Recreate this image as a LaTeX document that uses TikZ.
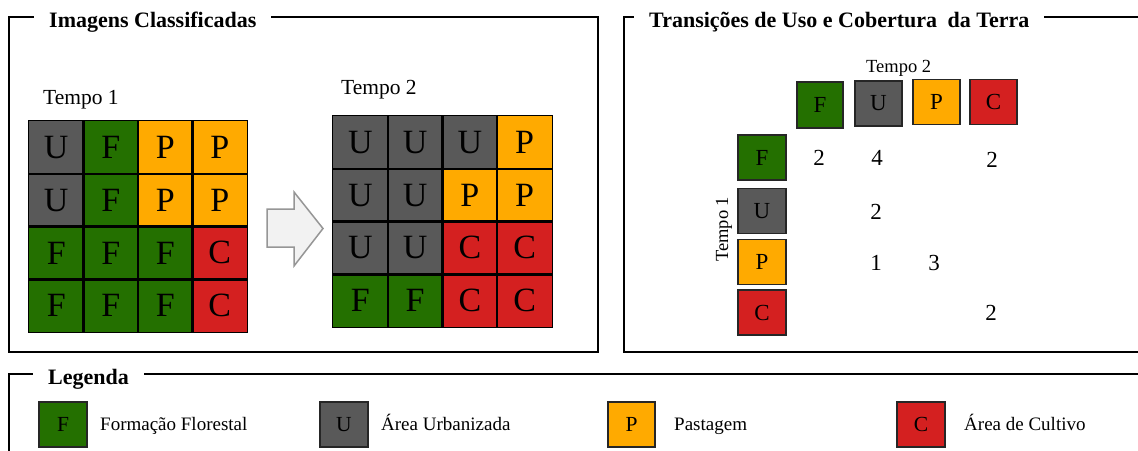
\documentclass[tikz,border=0pt]{standalone}
\usepackage{fontspec}
\setmainfont{Liberation Serif}
\definecolor{cF}{RGB}{36,112,0}
\definecolor{cU}{RGB}{89,89,89}
\definecolor{cP}{RGB}{255,170,0}
\definecolor{cC}{RGB}{212,32,32}
\definecolor{arrowfill}{RGB}{242,242,242}
\definecolor{arrowline}{RGB}{150,150,150}
\begin{document}
\begin{tikzpicture}[x=1pt,y=-1pt,
  frame/.style={draw=black,line width=2pt},
  paneltitle/.style={fill=white,inner xsep=15pt,inner ysep=4pt,anchor=base west,font=\fontsize{22}{26}\selectfont\bfseries},
  cell/.style={line width=1.2pt,minimum width=54.5pt,minimum height=52.75pt,inner sep=0pt,font=\fontsize{34}{40}\selectfont},
  cellborder/.style={draw=black,line width=1.3pt},
  tile/.style={draw=black!85,line width=1.5pt,minimum width=47pt,minimum height=45pt,inner sep=0pt,font=\fontsize{23}{27}\selectfont},
  key/.style={draw=black!85,line width=1.5pt,minimum width=47pt,minimum height=45pt,inner sep=0pt,font=\fontsize{21.5}{25}\selectfont},
  lbl/.style={anchor=base west,inner sep=0pt,font=\fontsize{21.5}{26}\selectfont},
  smalllbl/.style={anchor=base west,inner sep=0pt,font=\fontsize{18.5}{22}\selectfont},
  num/.style={inner sep=0pt,font=\fontsize{23}{27}\selectfont},
  keytext/.style={anchor=base west,inner sep=0pt,font=\fontsize{19}{23}\selectfont},
  bigarrow/.style={draw=arrowline,fill=arrowfill,line width=1.5pt,line join=miter}
]
\useasboundingbox (0,0) rectangle (1138,450);
\clip (0,0) rectangle (1138,450);
\fill[white] (0,0) rectangle (1138,450);

% ---------- frames ----------
\draw[frame] (9,17) rectangle (598,352);
\node[paneltitle] (title1) at (34,27.5) {Imagens Classificadas};
\draw[frame] (624,17) rectangle (1160,352);
\node[paneltitle] (title2) at (634,27.5) {Transições de Uso e Cobertura\hspace{5pt} da Terra};
\draw[frame] (8.5,374) rectangle (1160,470);
\node[paneltitle] (title3) at (33,384.5) {Legenda};

% ---------- Imagens classificadas ----------
\node[lbl] (tempo1) at (43,104) {Tempo 1};
\node[lbl] (tempo2) at (341,94.5) {Tempo 2};

\foreach \r/\pa/\pb/\pc/\pd in {0/U/F/P/P,1/U/F/P/P,2/F/F/F/C,3/F/F/F/C}{
  \foreach \i/\q in {0/\pa,1/\pb,2/\pc,3/\pd}{
    \node[cell,fill=c\q] (a\r\i) at ({29+54.5*(\i+0.5)},{121+52.75*(\r+0.5)}) {\q};
  }
}
\foreach \r/\pa/\pb/\pc/\pd in {0/U/U/U/P,1/U/U/P/P,2/U/U/C/C,3/F/F/C/C}{
  \foreach \i/\q in {0/\pa,1/\pb,2/\pc,3/\pd}{
    \node[cell,fill=c\q] (b\r\i) at ({333+54.75*(\i+0.5)},{116+52.75*(\r+0.5)}) {\q};
  }
}
% borders drawn after all fills so no edge is covered
\foreach \r in {0,1,2,3}{
  \foreach \i in {0,1,2,3}{
    \draw[cellborder] (a\r\i.north west) rectangle (a\r\i.south east);
    \draw[cellborder] (b\r\i.north west) rectangle (b\r\i.south east);
  }
}
\draw[bigarrow] (267,209) -- (294,209) -- (294,192) -- (323,228.5) -- (294,266) -- (294,247) -- (267,247) -- cycle;

% ---------- Transicoes ----------
\node[smalllbl] (ttempo2) at (866,72) {Tempo 2};
\node[smalllbl,rotate=90] (ttempo1) at (728,262) {Tempo 1};

\node[tile,fill=cF,minimum height=46pt,minimum width=46pt] (hF) at (820,105) {F};
\node[tile,fill=cU] (hU) at (878.5,103.5) {U};
\node[tile,fill=cP] (hP) at (936.5,102) {P};
\node[tile,fill=cC] (hC) at (993.5,102) {C};

\node[tile,fill=cF,minimum width=48pt] (vF) at (762,157.5) {F};
\node[tile,fill=cU,minimum width=48pt] (vU) at (762,211) {U};
\node[tile,fill=cP,minimum width=48pt] (vP) at (762,262) {P};
\node[tile,fill=cC,minimum width=48pt] (vC) at (762,312.5) {C};

\node[num] (nFF) at (819,158) {2};
\node[num] (nFU) at (877,158) {4};
\node[num] (nFC) at (992,159.5) {2};
\node[num] (nUU) at (876,212) {2};
\node[num] (nPU) at (876,263) {1};
\node[num] (nPP) at (934,263) {3};
\node[num] (nCC) at (991,313) {2};

% ---------- Legenda ----------
\node[key,fill=cF,minimum width=48pt] (kF) at (63,424.5) {F};
\node[keytext] (tF) at (100,430.5) {Formação Florestal};
\node[key,fill=cU,minimum width=48pt] (kU) at (344,424.5) {U};
\node[keytext] (tU) at (381,430.5) {Área Urbanizada};
\node[key,fill=cP] (kP) at (631.5,424.5) {P};
\node[keytext] (tP) at (674,430.5) {Pastagem};
\node[key,fill=cC,minimum width=48pt] (kC) at (921,424.5) {C};
\node[keytext] (tC) at (964,430.5) {Área de Cultivo};
\end{tikzpicture}
\end{document}
